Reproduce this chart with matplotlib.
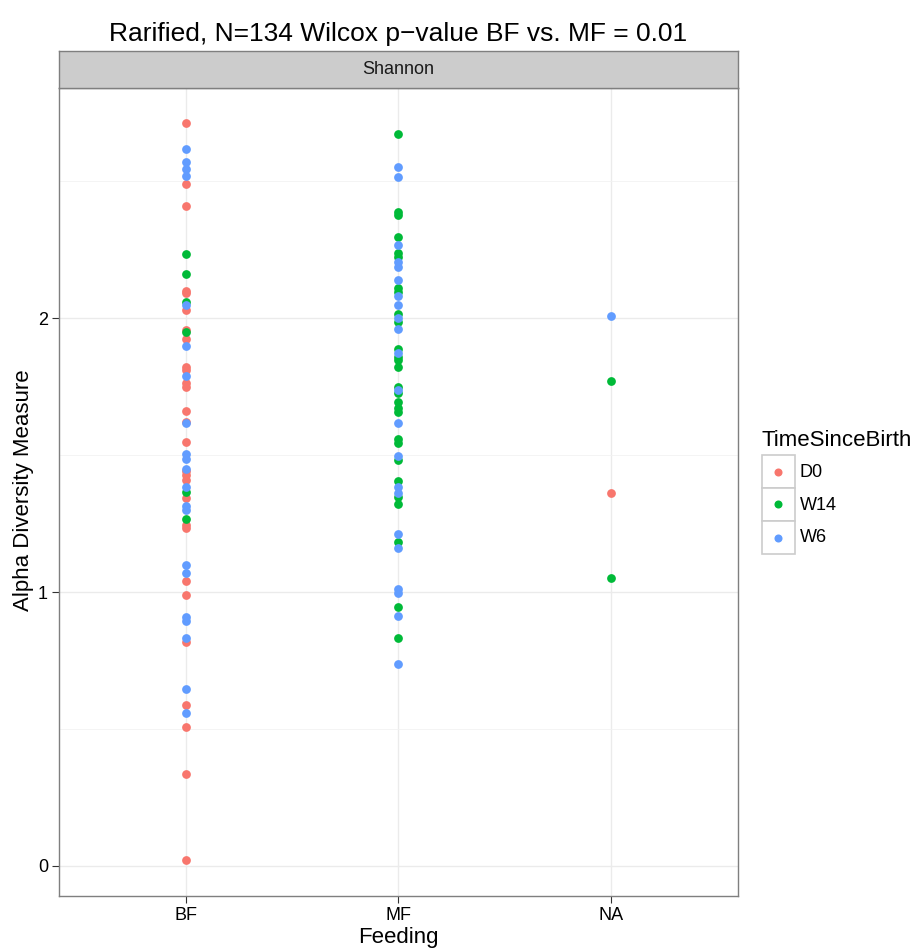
import matplotlib
matplotlib.use("Agg")
import matplotlib.pyplot as plt
from matplotlib.patches import Rectangle
from matplotlib.lines import Line2D

plt.rcParams['font.family'] = ['Liberation Sans', 'DejaVu Sans']

# categories and series
feeding = ["BF", "MF", "NA"]
groups = ["D0", "W14", "W6"]
colors = {"D0": "#F8766D", "W14": "#00BA38", "W6": "#619CFF"}

bf_d0 = [2.71, 2.49, 2.41, 2.10, 2.09, 2.03, 1.956, 1.925, 1.822, 1.81, 1.764,
         1.75, 1.66, 1.62, 1.546, 1.44, 1.427, 1.41, 1.342, 1.243, 1.232,
         1.039, 0.988, 0.816, 0.586, 0.508, 0.335, 0.022]
bf_w14 = [2.234, 2.16, 2.06, 1.95, 1.366, 1.265]
bf_w6 = [2.616, 2.569, 2.543, 2.52, 2.047, 1.898, 1.788, 1.616, 1.504, 1.487,
         1.45, 1.384, 1.314, 1.30, 1.097, 1.068, 0.908, 0.895, 0.831, 0.645, 0.56]

mf_d0 = []
mf_w14 = [2.67, 2.388, 2.376, 2.294, 2.236, 2.224, 2.108, 2.096, 2.014, 1.987,
          1.886, 1.857, 1.847, 1.822, 1.748, 1.725, 1.692, 1.67, 1.658, 1.558,
          1.543, 1.482, 1.406, 1.348, 1.32, 1.183, 0.946, 0.831]
mf_w6 = [2.552, 2.513, 2.266, 2.205, 2.187, 2.139, 2.08, 2.047, 2.0, 1.96,
         1.872, 1.737, 1.616, 1.496, 1.384, 1.36, 1.21, 1.159, 1.01, 0.995,
         0.912, 0.737]

na_d0 = [1.361]
na_w14 = [1.77, 1.051]
na_w6 = [2.007]

data = {
    "BF": {"D0": bf_d0, "W14": bf_w14, "W6": bf_w6},
    "MF": {"D0": mf_d0, "W14": mf_w14, "W6": mf_w6},
    "NA": {"D0": na_d0, "W14": na_w14, "W6": na_w6},
}

W, H = 920, 950
fig = plt.figure(figsize=(W / 100, H / 100), dpi=100)
ax = fig.add_axes([59 / W, 54 / H, 679 / W, 808 / H])

for i, f in enumerate(feeding):
    for g in groups:
        vals = data[f][g]
        ax.plot([i] * len(vals), vals, "o", color=colors[g], markersize=6.3,
                markeredgewidth=0, zorder=3)

ax.set_xlim(-0.6, 2.6)
ax.set_ylim(-0.1095, 2.8395)
ax.set_xticks(range(len(feeding)))
ax.set_xticklabels(feeding)
ax.set_yticks([0, 1, 2])
ax.set_yticks([0.5, 1.5, 2.5], minor=True)
ax.grid(True, which="major", color="#EBEBEB", linewidth=1.0, zorder=0)
ax.grid(True, which="minor", axis="y", color="#F2F2F2", linewidth=0.6, zorder=0)
ax.set_axisbelow(True)
for s in ax.spines.values():
    s.set_color("#7F7F7F")
    s.set_linewidth(1.0)
ax.tick_params(axis="both", which="major", length=5, color="#333333",
               labelsize=13, labelcolor="black", pad=3)
ax.tick_params(axis="both", which="minor", length=0)
ax.set_xlabel("Feeding", fontsize=16, va="center", ha="center")
ax.set_ylabel("Alpha Diversity Measure", fontsize=16, va="center", ha="center")
ax.xaxis.set_label_coords(398 / W, 1 - 937 / H, transform=fig.transFigure)
ax.yaxis.set_label_coords(24 / W, 1 - 490 / H, transform=fig.transFigure)

# facet strip
strip = fig.add_axes([59 / W, 862 / H, 679 / W, 37 / H])
strip.set_facecolor("#CCCCCC")
strip.set_xticks([])
strip.set_yticks([])
for s in strip.spines.values():
    s.set_color("#7F7F7F")
    s.set_linewidth(1.0)
strip.text(0.5, 0.5, "Shannon", ha="center", va="center", fontsize=13,
           color="#1A1A1A", transform=strip.transAxes)

fig.text(398 / W, 1 - 41 / H, "Rarified, N=134 Wilcox p\u2212value BF vs. MF = 0.01",
         ha="center", va="baseline", fontsize=19)

# legend
fig.text(762 / W, 1 - 440 / H, "TimeSinceBirth", ha="left", va="center",
         fontsize=16)
for k, g in enumerate(groups):
    top = 455 + k * 33
    fig.patches.append(Rectangle((762 / W, 1 - (top + 33) / H), 33 / W, 33 / H,
                                 transform=fig.transFigure, facecolor="white",
                                 edgecolor="#CCCCCC", linewidth=1.2))
    fig.lines.append(Line2D([778.5 / W], [1 - (top + 16.5) / H], marker="o",
                            color=colors[g], markersize=5.8, markeredgewidth=0,
                            transform=fig.transFigure))
    fig.text(800 / W, 1 - (top + 17) / H, g, ha="left", va="center", fontsize=13)

fig.savefig("out.png", dpi=100)
